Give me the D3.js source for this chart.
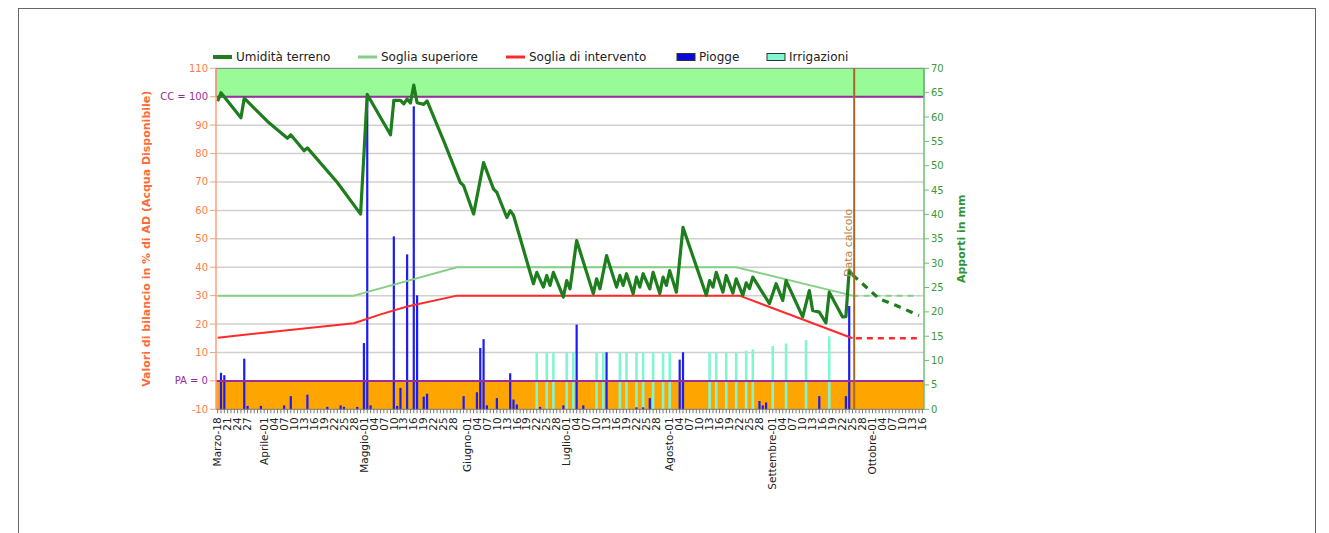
<!DOCTYPE html>
<html>
<head>
<meta charset="utf-8">
<script src="https://cdn.jsdelivr.net/npm/d3@7"></script>
<style>
body { margin: 0; background: #fff; }
svg text { font-family: "DejaVu Sans", Verdana, sans-serif; }
</style>
</head>
<body>
<div id="chart"></div>
<script>
// season shown on the chart (year is not shown, any non-leap year works)
var year = 2011;
var startDate = "03-18", endDate = "10-16", calcDate = "09-25";

// Umidità terreno (% AD) - turning points
var soilDates = ["03-18","03-19","03-25","03-26","04-02","04-08","04-09","04-13","04-14","04-23",
	"04-30","05-02","05-09","05-10","05-12","05-13","05-14","05-15","05-16","05-17",
	"05-19","05-20","05-25","05-30","05-31","06-03","06-06","06-09","06-10","06-13",
	"06-14","06-15","06-21","06-22","06-24","06-25","06-26","06-27","06-30","07-01",
	"07-02","07-04","07-09","07-10","07-11","07-13","07-16","07-17","07-18","07-19",
	"07-21","07-22","07-23","07-24","07-26","07-27","07-29","07-30","07-31","08-01",
	"08-03","08-05","08-12","08-13","08-14","08-15","08-17","08-18","08-20","08-21",
	"08-23","08-24","08-25","08-26","08-31","09-02","09-04","09-05","09-10","09-12",
	"09-13","09-15","09-17","09-18","09-22","09-23","09-24","09-25"];
var soilVals = [98.4,101.4,92.6,99.5,91.3,85.4,86.6,81.0,82.0,69.8,
	58.7,100.8,86.6,98.7,98.7,97.5,99.2,97.8,104.1,97.9,
	97.3,98.5,84.5,69.8,68.7,58.7,76.8,67.5,66.3,57.5,
	59.9,58.3,34.2,38.2,33.0,37.1,33.6,38.2,29.5,35.3,
	32.4,49.4,30.7,35.9,32.4,44.1,33.0,37.1,33.6,37.7,
	30.7,36.5,33.0,37.7,32.4,38.2,30.7,36.5,33.6,38.8,
	31.2,54.0,30.1,35.3,33.0,38.2,31.2,37.1,30.9,35.9,
	30.1,34.5,32.5,36.5,27.2,34.2,28.3,35.3,22.5,31.8,
	24.8,24.2,20.4,31.2,22.5,22.6,39.0,37.3];
// previsione (tratteggiata)
var soilFcDates = ["09-25","09-28","10-03","10-08","10-15"];
var soilFcVals = [37.3,34.2,28.9,26.6,23.0];

// Soglia superiore
var upperDates = ["03-18","04-28","05-29","08-21","09-25"];
var upperVals = [30,30,40,40,30];
var upperFcDates = ["09-25","10-15"];
var upperFcVals = [30,30];

// Soglia di intervento
var interDates = ["03-18","04-28","05-06","05-14","05-29","08-22","09-25"];
var interVals = [15.2,20.3,23.4,26.2,30,30,15];
var interFcDates = ["09-26","10-15"];
var interFcVals = [15,15];

// Piogge (mm)
var rainDates = ["03-19","03-20","03-26","03-27","03-31","04-07","04-09","04-14","04-20","04-24",
	"04-25","04-29","05-01","05-02","05-03","05-10","05-11","05-12","05-14","05-16",
	"05-17","05-19","05-20","05-31","06-04","06-05","06-06","06-07","06-10","06-14",
	"06-15","06-16","06-23","06-30","07-04","07-06","07-13","07-22","07-24","07-26",
	"08-04","08-05","08-28","08-29","08-30","09-15","09-23","09-24"];
var rainVals = [7.5,7.0,10.4,0.7,0.7,0.8,2.7,3.0,0.5,0.8,
	0.5,0.5,13.6,63.5,0.8,35.5,0.7,4.4,31.8,62.2,
	23.4,2.6,3.2,2.7,3.5,12.6,14.4,0.8,2.3,7.4,
	2.0,1.0,0.5,0.8,17.4,0.8,11.7,0.4,0.4,2.3,
	10.2,11.7,1.7,0.8,1.4,2.7,2.7,21.2];

// Irrigazioni (mm)
var irrDates = ["06-22","06-25","06-27","07-01","07-03","07-10","07-12","07-17","07-19","07-22",
	"07-24","07-27","07-30","08-01","08-13","08-15","08-18","08-21","08-24","08-26",
	"09-01","09-05","09-11","09-18"];
var irrVals = [11.7,11.7,11.7,11.7,11.7,11.7,11.7,11.7,11.7,11.7,
	11.7,11.7,11.7,11.7,11.7,11.7,11.7,11.7,12.0,12.3,
	13.0,13.5,14.2,15.0];

// axis labels
var monthNames = ["Gennaio","Febbraio","Marzo","Aprile","Maggio","Giugno","Luglio",
	"Agosto","Settembre","Ottobre","Novembre","Dicembre"];
var firstMonthDays = [18,21,24,27];
var tickDays = [1,4,7,10,13,16,19,22,25,28];
var leftTicks = [-10,0,10,20,30,40,50,60,70,80,90,100,110];
var leftSpecial = {0: "PA = 0", 100: "CC = 100"};
var rightTicks = [0,5,10,15,20,25,30,35,40,45,50,55,60,65,70];

var legendItems = [
	{name: "Umidità terreno", type: "line", color: "#1e7e1e", w: 4},
	{name: "Soglia superiore", type: "line", color: "#86cf86", w: 3},
	{name: "Soglia di intervento", type: "line", color: "#ff2a2a", w: 3},
	{name: "Piogge", type: "rect", color: "#0a0ad8"},
	{name: "Irrigazioni", type: "rect", color: "#80f7d2"}
];

// ---- layout ----
var width = 1329, height = 533;
var pLeft = 216, pRight = 924, pTop = 68.3, pBottom = 409.3;

function parse(s){
	var p = s.split("-");
	return new Date(year, +p[0] - 1, +p[1]);
}
var start = parse(startDate), end = parse(endDate);
var nDays = d3.timeDay.count(start, end) + 1;
function dayIdx(s){ return d3.timeDay.count(start, parse(s)); }

var x = d3.scaleLinear().domain([-0.5, nDays - 0.5]).range([pLeft, pRight]);
var y = d3.scaleLinear().domain([-10, 110]).range([pBottom, pTop]);
var yR = d3.scaleLinear().domain([0, 70]).range([pBottom, pTop]);
var dayW = x(1) - x(0);

var svg = d3.select("#chart").append("svg")
	.attr("width", width)
	.attr("height", height);

// outer frame
svg.append("rect")
	.attr("x", 18.5).attr("y", 8.5)
	.attr("width", 1297).attr("height", 540)
	.attr("fill", "none").attr("stroke", "#666").attr("stroke-width", 1);

// bands
svg.append("rect")
	.attr("x", pLeft).attr("y", y(110))
	.attr("width", pRight - pLeft).attr("height", y(100) - y(110))
	.attr("fill", "#98fb98").attr("stroke", "#777").attr("stroke-width", 1);
svg.append("rect")
	.attr("x", pLeft).attr("y", y(0))
	.attr("width", pRight - pLeft).attr("height", y(-10) - y(0))
	.attr("fill", "#ffa500");

// grid
svg.append("g").selectAll("line")
	.data(leftTicks.filter(function(d){ return d > 0 && d < 100; }))
	.enter().append("line")
	.attr("x1", pLeft).attr("x2", pRight)
	.attr("y1", function(d){ return y(d); })
	.attr("y2", function(d){ return y(d); })
	.attr("stroke", "#d0d0d0").attr("stroke-width", 1.5);

// bars
function bars(dates, vals, cls, color, w){
	svg.append("g").attr("class", cls).selectAll("rect")
		.data(dates.map(function(d, i){ return {d: d, v: vals[i]}; }))
		.enter().append("rect")
		.attr("x", function(d){ return x(dayIdx(d.d)) - w / 2; })
		.attr("y", function(d){ return yR(d.v); })
		.attr("width", w)
		.attr("height", function(d){ return yR(0) - yR(d.v); })
		.attr("fill", color);
}
bars(irrDates, irrVals, "irr", "#80f7d2", 2.6);
bars(rainDates, rainVals, "rain", "#1c1cf5", 2.2);

// CC / PA lines
[100, 0].forEach(function(v){
	svg.append("line")
		.attr("x1", pLeft).attr("x2", pRight)
		.attr("y1", y(v)).attr("y2", y(v))
		.attr("stroke", "#962f9e").attr("stroke-width", 2);
});

// lines
var line = d3.line()
	.x(function(d){ return x(dayIdx(d.d)); })
	.y(function(d){ return y(d.v); });
function drawLine(dates, vals, color, w, dash){
	svg.append("path")
		.datum(dates.map(function(d, i){ return {d: d, v: vals[i]}; }))
		.attr("d", line)
		.attr("fill", "none")
		.attr("stroke", color)
		.attr("stroke-width", w)
		.attr("stroke-linejoin", "round")
		.attr("stroke-dasharray", dash || null);
}
drawLine(upperDates, upperVals, "#86cf86", 2);
drawLine(upperFcDates, upperFcVals, "#86cf86", 2, "6,5");
drawLine(interDates, interVals, "#ff2a2a", 2);
drawLine(interFcDates, interFcVals, "#ff2a2a", 2.5, "6,5");
drawLine(soilDates, soilVals, "#1e7e1e", 3.2);
drawLine(soilFcDates, soilFcVals, "#1e7e1e", 3.2, "7,6");

// data calcolo
var xc = x(dayIdx(calcDate)) + dayW / 2;
svg.append("line")
	.attr("x1", xc).attr("x2", xc)
	.attr("y1", pTop).attr("y2", pBottom)
	.attr("stroke", "#a8652a").attr("stroke-width", 2);
svg.append("text")
	.attr("transform", "translate(" + (xc - 2) + "," + 277 + ") rotate(-90)")
	.attr("font-size", 11)
	.attr("fill", "#b8844e")
	.text("Data calcolo");

// x axis: daily ticks + labels
svg.append("line")
	.attr("x1", pLeft).attr("x2", pRight)
	.attr("y1", pBottom).attr("y2", pBottom)
	.attr("stroke", "#777");
svg.append("g").selectAll("line")
	.data(d3.range(nDays))
	.enter().append("line")
	.attr("x1", function(d){ return x(d); })
	.attr("x2", function(d){ return x(d); })
	.attr("y1", pBottom).attr("y2", pBottom + 4)
	.attr("stroke", "#777");

var xLabels = [];
d3.timeDay.range(start, d3.timeDay.offset(end, 1)).forEach(function(dt){
	var day = dt.getDate(), m = dt.getMonth();
	var days = m === start.getMonth() ? firstMonthDays : tickDays;
	if (days.indexOf(day) < 0) return;
	var first = days[0] === day;
	var txt = (day < 10 ? "0" : "") + day;
	xLabels.push({i: d3.timeDay.count(start, dt), t: first ? monthNames[m] + "-" + txt : txt});
});
svg.append("g").selectAll("text")
	.data(xLabels)
	.enter().append("text")
	.attr("transform", function(d){ return "translate(" + x(d.i) + "," + (pBottom + 8) + ") rotate(-90)"; })
	.attr("text-anchor", "end")
	.attr("dy", "0.35em")
	.attr("font-size", 10.5)
	.attr("fill", "#222")
	.text(function(d){ return d.t; });

// left axis
svg.append("line")
	.attr("x1", pLeft).attr("x2", pLeft)
	.attr("y1", pTop).attr("y2", pBottom)
	.attr("stroke", "#ff9c7c").attr("stroke-width", 1.5);
var lt = svg.append("g").selectAll("g")
	.data(leftTicks)
	.enter().append("g")
	.attr("transform", function(d){ return "translate(0," + y(d) + ")"; });
lt.append("line")
	.attr("x1", pLeft - 6).attr("x2", pLeft)
	.attr("stroke", "#ff9c7c");
lt.append("text")
	.attr("x", pLeft - 8)
	.attr("dy", "0.35em")
	.attr("text-anchor", "end")
	.attr("font-size", 10)
	.attr("fill", function(d){ return leftSpecial[d] ? "#962f9e" : "#ff7a45"; })
	.text(function(d){ return leftSpecial[d] || d; });
svg.append("text")
	.attr("transform", "translate(150," + ((pTop + pBottom) / 2) + ") rotate(-90)")
	.attr("text-anchor", "middle")
	.attr("font-size", 11)
	.attr("font-weight", "bold")
	.attr("fill", "#ff6a3a")
	.text("Valori di bilancio in % di AD (Acqua Disponibile)");

// right axis
svg.append("line")
	.attr("x1", pRight).attr("x2", pRight)
	.attr("y1", pTop).attr("y2", pBottom)
	.attr("stroke", "#6cc06c").attr("stroke-width", 1.5);
var rt = svg.append("g").selectAll("g")
	.data(rightTicks)
	.enter().append("g")
	.attr("transform", function(d){ return "translate(0," + yR(d) + ")"; });
rt.append("line")
	.attr("x1", pRight).attr("x2", pRight + 5)
	.attr("stroke", "#6cc06c");
rt.append("text")
	.attr("x", pRight + 7)
	.attr("dy", "0.35em")
	.attr("font-size", 10)
	.attr("fill", "#3a9a3a")
	.text(function(d){ return d; });
svg.append("text")
	.attr("transform", "translate(965," + ((pTop + pBottom) / 2) + ") rotate(-90)")
	.attr("text-anchor", "middle")
	.attr("font-size", 11)
	.attr("font-weight", "bold")
	.attr("fill", "#2f942f")
	.text("Apporti in mm");

// legend
var legX = [213, 358, 506, 677, 767];
var leg = svg.append("g").selectAll("g")
	.data(legendItems)
	.enter().append("g")
	.attr("transform", function(d, i){ return "translate(" + legX[i] + ",57)"; });
leg.each(function(d){
	var g = d3.select(this);
	if (d.type === "line") {
		g.append("line").attr("x1", 0).attr("x2", 19)
			.attr("stroke", d.color).attr("stroke-width", d.w);
	} else {
		g.append("rect").attr("x", 0).attr("y", -3.5).attr("width", 18).attr("height", 7)
			.attr("fill", d.color).attr("stroke", "#333").attr("stroke-width", 1);
	}
	g.append("text").attr("x", d.type === "line" ? 23 : 22).attr("dy", "0.35em")
		.attr("font-size", 12).attr("fill", "#222")
		.text(d.name);
});
</script>
</body>
</html>
